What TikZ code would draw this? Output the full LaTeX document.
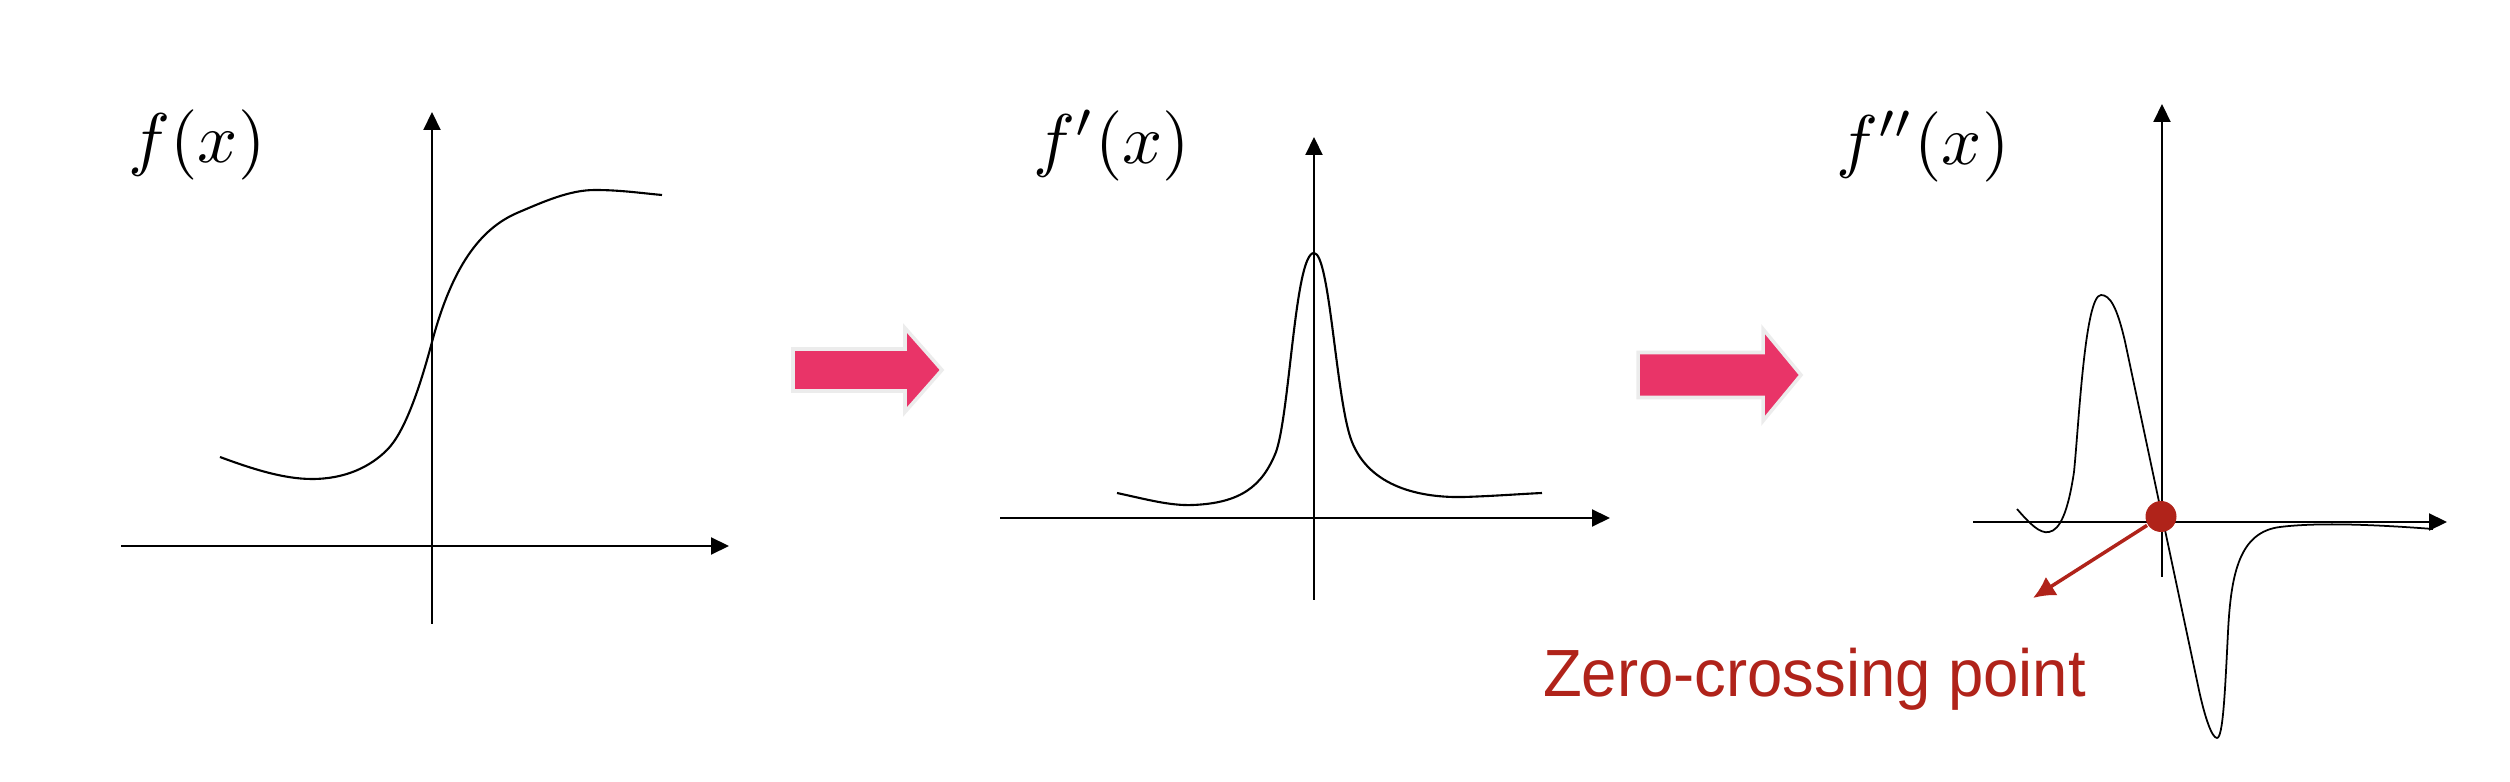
\documentclass[tikz,border=0pt]{standalone}
\usepackage{fontspec}
\newfontfamily\labelfont{Liberation Sans}[FakeStretch=0.95]
\usetikzlibrary{arrows.meta}
\definecolor{zcred}{RGB}{176,35,26}
\definecolor{arrowpink}{RGB}{233,52,104}

\begin{document}
\begin{tikzpicture}[>={Triangle[length=1.8mm,width=1.7mm]}, line width=0.6pt,
    fnlabel/.style={inner sep=0pt, scale=2.0},
    bigarrow/.style={fill=arrowpink, draw=gray!15, line width=1pt}]
    \useasboundingbox (0,0) rectangle (25.1,7.82);

    % Fonction f
    \node[fnlabel] (lab1) at (1.97,6.37) {$f(x)$};
    \draw[->] (1.21,2.36) -- (7.29,2.36);
    \draw[->] (4.32,1.58) -- (4.32,6.70);
    \draw (2.20,3.25) .. controls (2.55,3.12) and (2.85,3.03) .. (3.12,3.03)
        .. controls (3.45,3.03) and (3.70,3.15) .. (3.87,3.32)
        .. controls (4.05,3.50) and (4.20,3.95) .. (4.32,4.40)
        .. controls (4.52,5.15) and (4.80,5.53) .. (5.17,5.69)
        .. controls (5.45,5.81) and (5.70,5.92) .. (5.95,5.92)
        .. controls (6.20,5.92) and (6.40,5.89) .. (6.62,5.87);

    % Fleche 1
    \draw[bigarrow] (7.93,4.33) -- (9.05,4.33) -- (9.05,4.54) -- (9.42,4.12)
        -- (9.05,3.70) -- (9.05,3.91) -- (7.93,3.91) -- cycle;

    % Derivee premiere
    \node[fnlabel] (lab2) at (11.12,6.365) {$f'(x)$};
    \draw[->] (10.00,2.64) -- (16.10,2.64);
    \draw[->] (13.14,1.82) -- (13.14,6.45);
    \draw (11.17,2.89) .. controls (11.45,2.83) and (11.70,2.76) .. (11.93,2.77)
        .. controls (12.40,2.79) and (12.62,2.95) .. (12.76,3.30)
        .. controls (12.90,3.70) and (12.95,5.29) .. (13.14,5.29)
        .. controls (13.30,5.29) and (13.36,3.80) .. (13.52,3.40)
        .. controls (13.70,2.95) and (14.20,2.84) .. (14.64,2.85)
        .. controls (14.95,2.86) and (15.20,2.88) .. (15.42,2.89);

    % Fleche 2
    \draw[bigarrow] (16.38,4.295) -- (17.63,4.295) -- (17.63,4.53) -- (18.01,4.07)
        -- (17.63,3.61) -- (17.63,3.845) -- (16.38,3.845) -- cycle;

    % Derivee seconde
    \node[fnlabel] (lab3) at (19.23,6.355) {$f''(x)$};
    \draw[->] (19.73,2.60) -- (24.47,2.60);
    \draw[->] (21.62,2.05) -- (21.62,6.78);
    \draw[line width=0.5pt] (20.17,2.73) .. controls (20.30,2.58) and (20.40,2.48) .. (20.49,2.50)
        .. controls (20.60,2.52) and (20.68,2.70) .. (20.74,3.10)
        .. controls (20.79,3.60) and (20.85,4.87) .. (21.01,4.87)
        .. controls (21.10,4.87) and (21.17,4.75) .. (21.25,4.405)
        -- (21.99,0.917)
        .. controls (22.05,0.64) and (22.12,0.44) .. (22.17,0.44)
        .. controls (22.23,0.44) and (22.25,0.90) .. (22.28,1.50)
        .. controls (22.31,2.10) and (22.40,2.50) .. (22.80,2.55)
        .. controls (23.20,2.60) and (23.80,2.57) .. (24.33,2.53);

    % Passage par zero
    \node[circle, fill=zcred, inner sep=0pt, minimum size=3.1mm] (zc) at (21.61,2.655) {};
    \coordinate (zcend) at (20.33,1.84);
    \draw[-{Latex[length=2.2mm,width=2.2mm]}, zcred, line width=1pt] (zc) -- (zcend);
    \node[anchor=base west, inner sep=0pt, text=zcred, font=\labelfont\fontsize{19}{23}\selectfont]
        (zctext) at (15.42,0.852) {Zero-crossing point};
\end{tikzpicture}
\end{document}
